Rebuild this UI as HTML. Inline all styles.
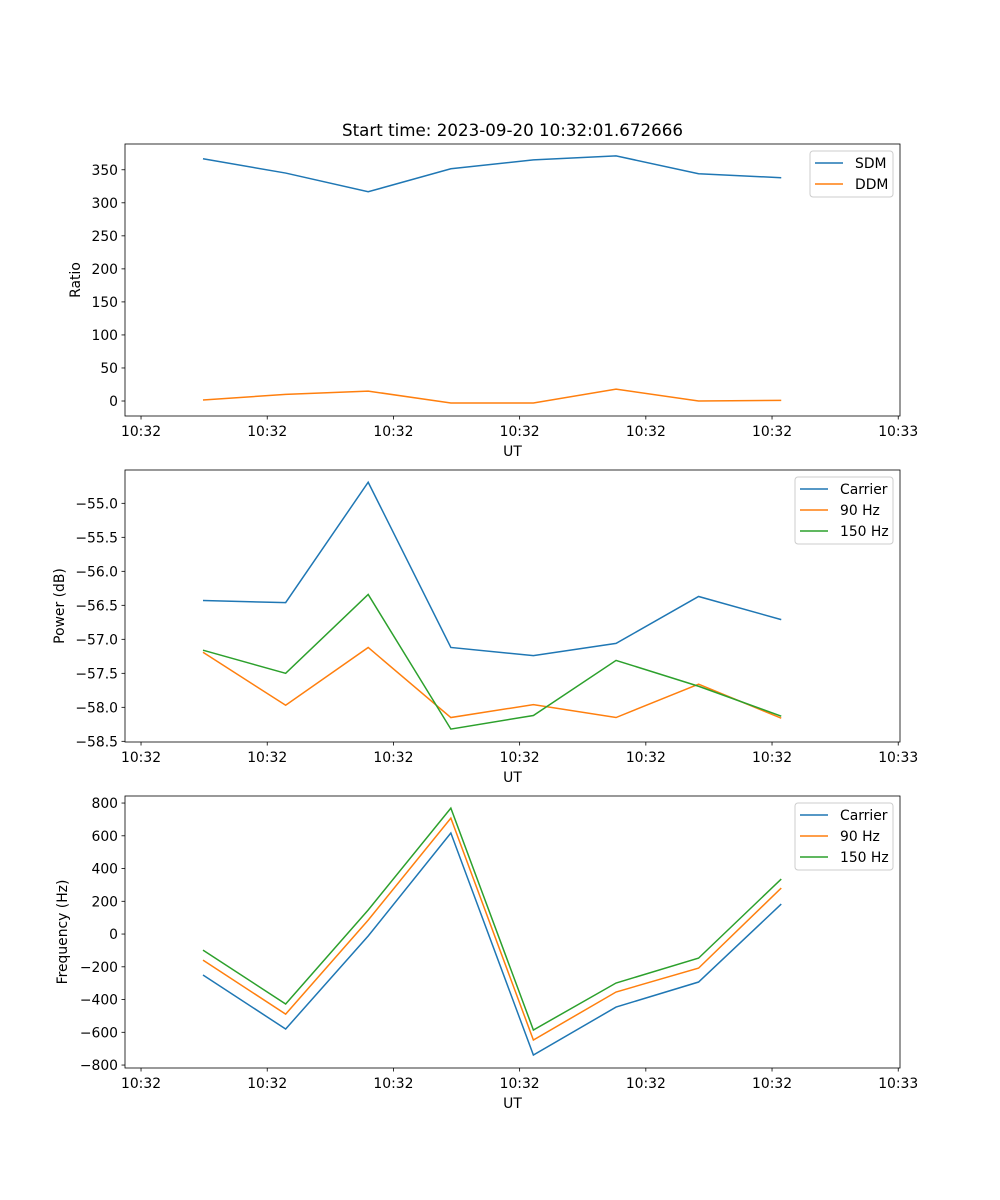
<!DOCTYPE html>
<html><head><meta charset="utf-8"><style>
body{margin:0;background:#fff;}
svg{display:block;font-family:"DejaVu Sans","Liberation Sans",sans-serif;}
</style></head><body>
<svg id="fig" width="1000" height="1200"></svg>
<script>
const times=[0.491,1.146,1.80,2.455,3.109,3.764,4.418,5.073];
const xTickVals=[0,1,2,3,4,5,6];
const xTickLabels=["10:32","10:32","10:32","10:32","10:32","10:32","10:33"];
const sdm=[366.7,345,316.7,351.5,365,371,344,338];
const ddm=[1.5,10,15,-3,-3,18,0,1];
const pCarrier=[-56.43,-56.46,-54.69,-57.12,-57.24,-57.06,-56.37,-56.71];
const p90=[-57.19,-57.97,-57.12,-58.15,-57.96,-58.15,-57.66,-58.16];
const p150=[-57.16,-57.5,-56.34,-58.32,-58.12,-57.31,-57.69,-58.13];
const fCarrier=[-250,-580,-12,617,-739,-446,-293,183];
const f90=[-159,-489,85,708,-647,-354,-208,281];
const f150=[-98,-427,147,769,-586,-299,-147,336];
const ticks1=[0,50,100,150,200,250,300,350];
const ticks2=[-58.5,-58.0,-57.5,-57.0,-56.5,-56.0,-55.5,-55.0];
const ticks3=[-800,-600,-400,-200,0,200,400,600,800];
const C=["#1f77b4","#ff7f0e","#2ca02c"];
const NS="http://www.w3.org/2000/svg";
const svg=document.getElementById('fig');
function el(tag,attrs,parent){const e=document.createElementNS(NS,tag);for(const k in attrs)e.setAttribute(k,attrs[k]);(parent||svg).appendChild(e);return e;}
const L=125,R=900,xmin=-0.127,xmax=6.014;
function X(t){return L+(t-xmin)/(xmax-xmin)*(R-L);}
function fmt(v,dec){return (v<0?"\u2212":"")+Math.abs(v).toFixed(dec);}
function panel(name,top,bot,ymin,ymax,yt,dec,ylabel,series,names,leg){
  const g=el('g',{});
  
  
  const Y=v=>bot-(v-ymin)/(ymax-ymin)*(bot-top);
  series.forEach((s,i)=>{
    const p=el('polyline',{points:s.map((v,j)=>X(times[j])+','+Y(v)).join(' '),fill:'none',stroke:C[i],'stroke-width':1.5},g);
    
    
  });
  el('rect',{x:L,y:top,width:R-L,height:bot-top,fill:'none',stroke:'#000','stroke-width':0.8},g);
  xTickVals.forEach((t,i)=>{const x=X(t);el('line',{x1:x,x2:x,y1:bot,y2:bot+3.5,stroke:'#000','stroke-width':0.8},g);
    const tx=el('text',{x:x,y:bot+20,'font-size':13.9,'text-anchor':'middle'},g);tx.textContent=xTickLabels[i];
    });
  yt.forEach(v=>{const y=Y(v);el('line',{x1:L-3.5,x2:L,y1:y,y2:y,stroke:'#000','stroke-width':0.8},g);
    const tx=el('text',{x:L-7,y:y+5,'font-size':13.9,'text-anchor':'end'},g);tx.textContent=fmt(v,dec);
    });
  const xl=el('text',{x:(L+R)/2,y:bot+40,'font-size':13.9,'text-anchor':'middle'},g);xl.textContent='UT';
  
  const cx=leg.ylx,cy=(top+bot)/2;
  const yl=el('text',{x:cx,y:cy,'font-size':13.9,'text-anchor':'middle',transform:`rotate(-90 ${cx} ${cy})`},g);yl.textContent=ylabel;
  
  const lg=el('g',{},g);
  
  el('rect',{x:leg.x,y:top+7,width:893-leg.x,height:names.length*21+4,rx:3,fill:'#fff','fill-opacity':0.8,stroke:'#ccc'},lg);
  names.forEach((n,i)=>{const y=top+19+i*21;
    el('line',{x1:leg.x+5,x2:leg.x+33,y1:y,y2:y,stroke:C[i],'stroke-width':1.5},lg);
    const t=el('text',{x:leg.x+45,y:y+5,'font-size':13.9},lg);t.textContent=n;
    });
}
const title=el('text',{x:512.5,y:136,'font-size':16.7,'text-anchor':'middle'});
title.textContent='Start time: 2023-09-20 10:32:01.672666';


panel('ratio-panel',144,416,-22.7,389,ticks1,0,'Ratio',[sdm,ddm],['SDM','DDM'],{x:810,ylx:80});
panel('power-panel',470,742,-58.51,-54.51,ticks2,1,'Power (dB)',[pCarrier,p90,p150],['Carrier','90 Hz','150 Hz'],{x:795,ylx:64});
panel('frequency-panel',796,1068,-818,843,ticks3,0,'Frequency (Hz)',[fCarrier,f90,f150],['Carrier','90 Hz','150 Hz'],{x:795,ylx:67});
</script>
</body></html>
